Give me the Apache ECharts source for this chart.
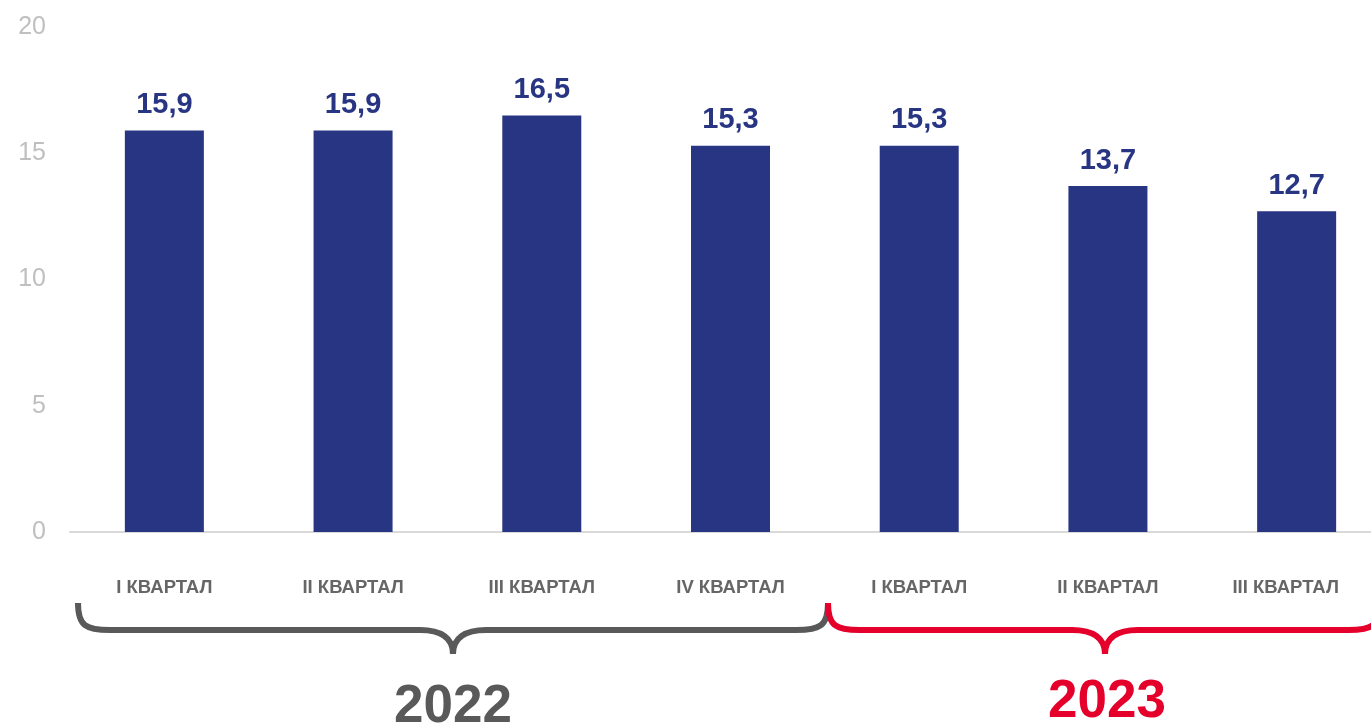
<!DOCTYPE html>
<html>
<head>
<meta charset="utf-8">
<script src="https://cdn.jsdelivr.net/npm/echarts@6/dist/echarts.min.js"></script>
<style>html,body{margin:0;padding:0;background:#fff;overflow:hidden;}#c{width:1391px;height:723px;}</style>
</head>
<body>
<div id="c"></div>
<script>
const categories = ['I КВАРТАЛ','II КВАРТАЛ','III КВАРТАЛ','IV КВАРТАЛ','I КВАРТАЛ','II КВАРТАЛ','III КВАРТАЛ'];
const values = [15.9, 15.9, 16.5, 15.3, 15.3, 13.7, 12.7];
const years = ['2022', '2023'];
const yTicks = [0, 5, 10, 15, 20];

const FONT = '"Liberation Sans", Arial, sans-serif';

function brace(x1, mid, x2, color) {
  const top = 603, line = 630, apex = 654, w = 6;
  const st = { fill: null, stroke: color, lineWidth: w };
  const seg = [];
  seg.push({ type: 'bezierCurve', shape: { x1: x1, y1: top, cpx1: x1, cpy1: line - 4, cpx2: x1 + 8, cpy2: line, x2: x1 + 32, y2: line }, style: st });
  seg.push({ type: 'line', shape: { x1: x1 + 32, y1: line, x2: mid - 33, y2: line }, style: st });
  seg.push({ type: 'bezierCurve', shape: { x1: mid - 33, y1: line, cpx1: mid - 12, cpy1: line, cpx2: mid, cpy2: line + 8, x2: mid, y2: apex }, style: st });
  seg.push({ type: 'bezierCurve', shape: { x1: mid, y1: apex, cpx1: mid, cpy1: line + 8, cpx2: mid + 12, cpy2: line, x2: mid + 33, y2: line }, style: st });
  seg.push({ type: 'line', shape: { x1: mid + 33, y1: line, x2: x2 - 32, y2: line }, style: st });
  seg.push({ type: 'bezierCurve', shape: { x1: x2 - 32, y1: line, cpx1: x2 - 8, cpy1: line, cpx2: x2, cpy2: line - 4, x2: x2, y2: top }, style: st });
  return seg;
}

const labelStyle = { color: '#666666', fontSize: 18.5, fontWeight: 'bold', fontFamily: FONT };

const chart = echarts.init(document.getElementById('c'));
chart.setOption({
  animation: false,
  grid: { left: 70, top: 27, right: 0, height: 505, containLabel: false },
  xAxis: {
    type: 'category',
    data: categories,
    axisLine: { show: true, lineStyle: { color: '#d9d9d9', width: 2 } },
    axisTick: { show: false },
    axisLabel: Object.assign({
      margin: 46, interval: 0,
      formatter: (v, i) => i === categories.length - 1 ? '{last|' + v + '}' : v,
      rich: { last: Object.assign({ padding: [0, 22, 0, 0] }, labelStyle) }
    }, labelStyle),
    splitLine: { show: false }
  },
  yAxis: {
    type: 'value',
    min: yTicks[0], max: yTicks[yTicks.length - 1], interval: 5,
    axisLine: { show: false },
    axisTick: { show: false },
    splitLine: { show: false },
    axisLabel: { margin: 24, color: '#bfbfbf', fontSize: 25, fontFamily: FONT }
  },
  series: [{
    type: 'bar',
    data: values,
    barWidth: 79,
    itemStyle: { color: '#283583' },
    label: {
      show: true, position: 'top', distance: 11,
      color: '#283583', fontSize: 29, fontWeight: 'bold', fontFamily: FONT,
      formatter: p => String(p.value).replace('.', ',')
    }
  }],
  graphic: [].concat(
    brace(78, 453, 828, '#595959'),
    brace(828, 1105, 1380, '#e4002b'),
    [
      { type: 'text', x: 453, y: 707, style: { text: years[0], font: 'bold 53px ' + FONT, fill: '#595959', textAlign: 'center', textVerticalAlign: 'middle' } },
      { type: 'text', x: 1107, y: 702, style: { text: years[1], font: 'bold 53px ' + FONT, fill: '#e4002b', textAlign: 'center', textVerticalAlign: 'middle' } }
    ]
  )
});
</script>
</body>
</html>
